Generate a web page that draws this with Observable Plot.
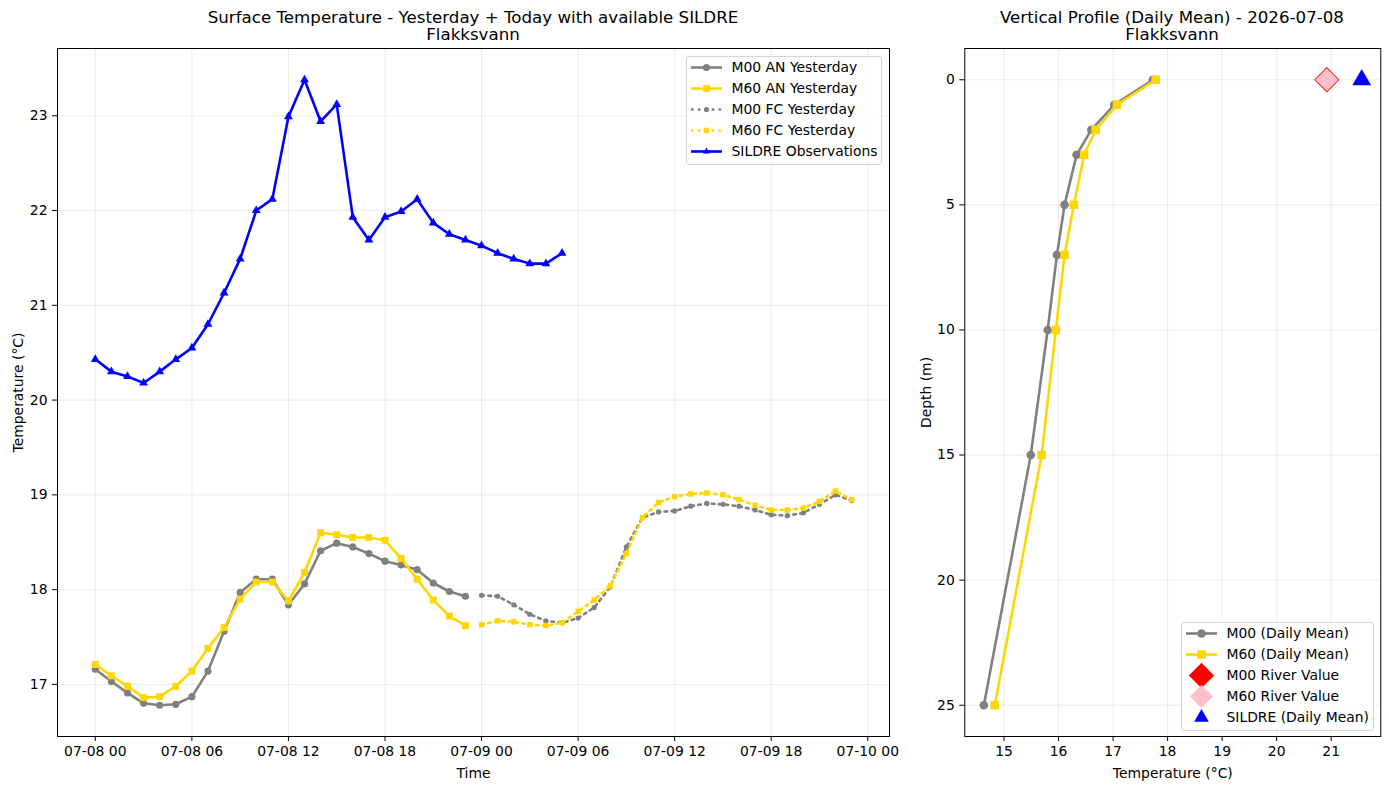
<!DOCTYPE html>
<html>
<head>
<meta charset="utf-8">
<script src="https://cdn.jsdelivr.net/npm/d3@7"></script>
<script src="https://cdn.jsdelivr.net/npm/@observablehq/plot@0.6"></script>
<style>
  body { margin: 0; background: #fff; font-family: "DejaVu Sans", sans-serif; }
  #fig { position: relative; width: 1389px; height: 790px; overflow: hidden; background: #fff; }
  .panel { position: absolute; top: 0; }
  .title { position: absolute; transform: translateX(-50%); text-align: center; font-size: 16.67px; line-height: 17px; color: #000; white-space: nowrap; }
  .legend { position: absolute; box-sizing: border-box; background: rgba(255,255,255,0.8); border: 1px solid #d5d5d5; border-radius: 3px; font-size: 13.9px; color: #000; }
  .legend .row { display: flex; align-items: center; height: 21px; white-space: nowrap; }
  .legend svg { flex: none; margin-right: 10px; overflow: visible; }
</style>
</head>
<body>
<div id="fig"></div>
<script>
// ---------- data ----------
const startDate = "2026-07-08T00:00:00Z";
const xTickHours = [0, 6, 12, 18, 24, 30, 36, 42, 48];
const tempTicks = [17, 18, 19, 20, 21, 22, 23];

const anHours = [0,1,2,3,4,5,6,7,8,9,10,11,12,13,14,15,16,17,18,19,20,21,22,23];
const fcHours = [24,25,26,27,28,29,30,31,32,33,34,35,36,37,38,39,40,41,42,43,44,45,46,47];
const sildreHours = [0,1,2,3,4,5,6,7,8,9,10,11,12,13,14,15,16,17,18,19,20,21,22,23,24,25,26,27,28,29];

const m00AnYesterday = [17.16,17.03,16.91,16.80,16.78,16.79,16.87,17.14,17.56,17.97,18.11,18.11,17.84,18.06,18.41,18.49,18.45,18.38,18.30,18.26,18.21,18.07,17.98,17.93];
const m60AnYesterday = [17.21,17.09,16.98,16.86,16.87,16.98,17.14,17.38,17.60,17.90,18.08,18.08,17.88,18.18,18.60,18.58,18.55,18.55,18.52,18.33,18.11,17.89,17.72,17.62];
const m00FcYesterday = [17.94,17.93,17.84,17.74,17.67,17.65,17.70,17.81,18.03,18.45,18.76,18.82,18.83,18.88,18.91,18.90,18.88,18.84,18.79,18.78,18.81,18.90,19.00,18.94];
const m60FcYesterday = [17.63,17.67,17.66,17.63,17.62,17.65,17.77,17.89,18.04,18.38,18.76,18.92,18.98,19.01,19.02,19.00,18.95,18.89,18.84,18.84,18.86,18.93,19.04,18.95];
const sildreObs = [20.43,20.30,20.25,20.18,20.30,20.43,20.55,20.80,21.13,21.49,22.00,22.12,22.99,23.38,22.94,23.12,21.93,21.69,21.93,21.99,22.12,21.87,21.75,21.69,21.63,21.55,21.49,21.44,21.44,21.55];

const profileDate = "2026-07-08";
const lakeName = "Flakksvann";
const depths = [0, 1, 2, 3, 5, 7, 10, 15, 25];
const m00Profile = [17.73,17.02,16.60,16.33,16.11,15.97,15.80,15.49,14.63];
const m60Profile = [17.78,17.07,16.68,16.47,16.28,16.11,15.95,15.69,14.83];
const riverDepth = [0];
const m00River = [20.92];
const m60River = [20.92];
const sildreDailyMean = [21.56];
const profTempTicks = [15, 16, 17, 18, 19, 20, 21];
const depthTicks = [0, 5, 10, 15, 20, 25];

// ---------- helpers ----------
const t0 = new Date(startDate).getTime();
const toDate = h => new Date(t0 + h * 3600e3);
const rows = (hours, vals) => hours.map((h, i) => ({t: toDate(h), v: vals[i]}));
const prof = (d, vals) => d.map((z, i) => ({depth: z, v: vals[i]}));
const gridStyle = {stroke: "#b0b0b0", strokeOpacity: 0.3, strokeWidth: 0.8};
const baseStyle = {fontFamily: "DejaVu Sans, sans-serif", fontSize: "13.9px", color: "#000", background: "transparent", overflow: "visible"};
const LW = 2.6;
const DOT = "2.6,4.3";

// series definitions (left)
const leftSeries = [
  {name: "M00 AN Yesterday", data: rows(anHours, m00AnYesterday), color: "gray", symbol: "circle", r: 3.6, dash: null},
  {name: "M60 AN Yesterday", data: rows(anHours, m60AnYesterday), color: "gold", symbol: "square", r: 3.9, dash: null},
  {name: "M00 FC Yesterday", data: rows(fcHours, m00FcYesterday), color: "gray", symbol: "circle", r: 2.6, dash: DOT},
  {name: "M60 FC Yesterday", data: rows(fcHours, m60FcYesterday), color: "gold", symbol: "square", r: 3.1, dash: DOT},
  {name: "SILDRE Observations", data: rows(sildreHours, sildreObs), color: "blue", symbol: "triangle", r: 3.3, dash: null}
];

const leftMarks = [
  Plot.gridX(xTickHours.map(toDate), gridStyle),
  Plot.gridY(tempTicks, gridStyle)
];
for (const s of leftSeries) {
  leftMarks.push(Plot.line(s.data, {x: "t", y: "v", stroke: s.color, strokeWidth: LW, strokeDasharray: s.dash ?? undefined}));
  leftMarks.push(Plot.dot(s.data, {x: "t", y: "v", symbol: s.symbol, fill: s.color, r: s.r}));
}
leftMarks.push(Plot.frame({stroke: "#000", strokeWidth: 1}));

const left = Plot.plot({
  width: 900, height: 790,
  marginLeft: 57, marginRight: 11, marginTop: 48, marginBottom: 54,
  style: baseStyle,
  x: {type: "utc", domain: [toDate(-2.35), toDate(49.35)], ticks: xTickHours.map(toDate),
      tickFormat: d3.utcFormat("%m-%d %H"), tickSize: 5, tickPadding: 5,
      label: "Time", labelAnchor: "center", labelArrow: "none", labelOffset: 41},
  y: {domain: [16.45, 23.71], ticks: tempTicks, tickSize: 5, tickPadding: 5,
      label: "Temperature (°C)", labelAnchor: "center", labelArrow: "none", labelOffset: 44},
  marks: leftMarks
});

// series definitions (right)
const rightSeries = [
  {name: "M00 (Daily Mean)", data: prof(depths, m00Profile), color: "gray", symbol: "circle", r: 4.3, line: true},
  {name: "M60 (Daily Mean)", data: prof(depths, m60Profile), color: "gold", symbol: "square", r: 4.8, line: true},
  {name: "M00 River Value", data: prof(riverDepth, m00River), color: "red", symbol: "diamond2", r: 11.4, line: false},
  {name: "M60 River Value", data: prof(riverDepth, m60River), color: "pink", symbol: "diamond2", r: 10.4, line: false},
  {name: "SILDRE (Daily Mean)", data: prof(riverDepth, sildreDailyMean), color: "blue", symbol: "triangle", r: 7.0, line: false}
];

const rightMarks = [
  Plot.gridX(profTempTicks, gridStyle),
  Plot.gridY(depthTicks, gridStyle)
];
for (const s of rightSeries) {
  if (s.line) rightMarks.push(Plot.line(s.data, {x: "v", y: "depth", stroke: s.color, strokeWidth: LW}));
  rightMarks.push(Plot.dot(s.data, {x: "v", y: "depth", symbol: s.symbol, fill: s.color, r: s.r}));
}
rightMarks.push(Plot.frame({stroke: "#000", strokeWidth: 1}));

const right = Plot.plot({
  width: 489, height: 790,
  marginLeft: 64.3, marginRight: 8.7, marginTop: 48, marginBottom: 54,
  style: baseStyle,
  x: {domain: [14.28, 21.91], ticks: profTempTicks, tickSize: 5, tickPadding: 5,
      label: "Temperature (°C)", labelAnchor: "center", labelArrow: "none", labelOffset: 41},
  y: {domain: [26.25, -1.25], ticks: depthTicks, tickSize: 5, tickPadding: 5,
      label: "Depth (m)", labelAnchor: "center", labelArrow: "none", labelOffset: 44},
  marks: rightMarks
});

// ---------- layout ----------
const fig = document.getElementById("fig");
const wrapL = document.createElement("div"); wrapL.className = "panel"; wrapL.style.left = "0px"; wrapL.appendChild(left); fig.appendChild(wrapL);
const wrapR = document.createElement("div"); wrapR.className = "panel"; wrapR.style.left = "900px"; wrapR.appendChild(right); fig.appendChild(wrapR);

function addTitle(lines, cx) {
  const d = document.createElement("div");
  d.className = "title";
  d.style.left = cx + "px";
  d.style.top = "9px";
  d.innerHTML = lines.join("<br>");
  fig.appendChild(d);
}
addTitle(["Surface Temperature - Yesterday + Today with available SILDRE", lakeName], 473);
addTitle([`Vertical Profile (Daily Mean) - ${profileDate}`, lakeName], 1172);

function swatch(s, withLine) {
  const ns = "http://www.w3.org/2000/svg";
  const svg = document.createElementNS(ns, "svg");
  svg.setAttribute("width", 31); svg.setAttribute("height", 21);
  if (withLine) {
    const l = document.createElementNS(ns, "line");
    l.setAttribute("x1", 0); l.setAttribute("x2", 31); l.setAttribute("y1", 10.5); l.setAttribute("y2", 10.5);
    l.setAttribute("stroke", s.color); l.setAttribute("stroke-width", LW);
    if (s.dash) l.setAttribute("stroke-dasharray", s.dash);
    svg.appendChild(l);
  }
  const symMap = {circle: d3.symbolCircle, square: d3.symbolSquare, triangle: d3.symbolTriangle2, diamond2: d3.symbolDiamond2};
  const p = document.createElementNS(ns, "path");
  p.setAttribute("d", d3.symbol(symMap[s.symbol], Math.PI * s.r * s.r)());
  p.setAttribute("transform", "translate(15.5,10.5)");
  p.setAttribute("fill", s.color);
  svg.appendChild(p);
  return svg;
}

function addLegend(series, box, lineFn) {
  const lg = document.createElement("div");
  lg.className = "legend";
  Object.assign(lg.style, {left: box.x + "px", top: box.y + "px", width: box.w + "px", height: box.h + "px", padding: box.pad});
  for (const s of series) {
    const row = document.createElement("div");
    row.className = "row";
    row.appendChild(swatch(s, lineFn(s)));
    const t = document.createElement("span");
    t.textContent = s.name;
    row.appendChild(t);
    lg.appendChild(row);
  }
  fig.appendChild(lg);
}
addLegend(leftSeries, {x: 685.5, y: 55.5, w: 196, h: 109, pad: "0px 4px 0px 4px"}, () => true);
addLegend(rightSeries, {x: 1180.5, y: 621.5, w: 193, h: 109, pad: "0px 4px 0px 4px"}, s => s.line);
</script>
</body>
</html>
